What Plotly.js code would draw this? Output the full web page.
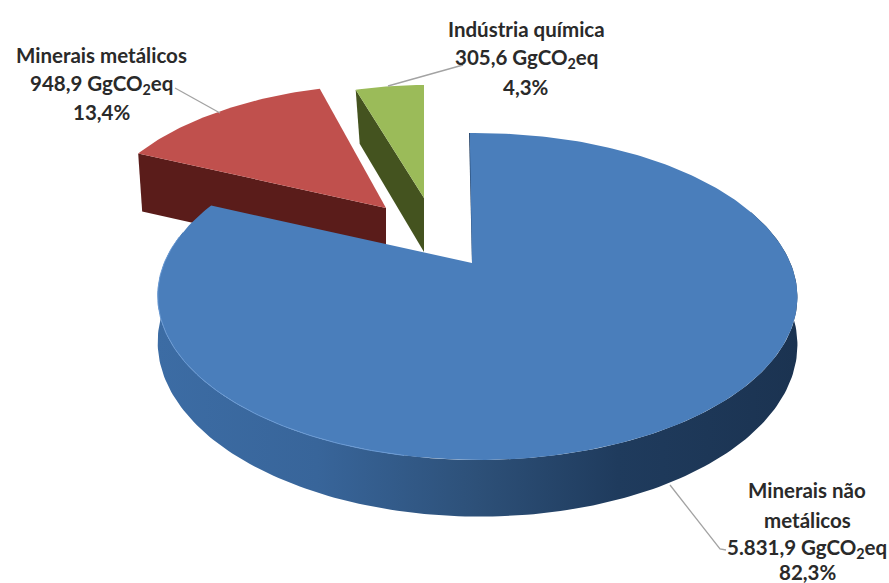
<!DOCTYPE html>
<html>
<head>
<meta charset="utf-8">
<script src="https://cdn.plot.ly/plotly-3.0.1.min.js"></script>
<style>html,body{margin:0;padding:0;background:#fff}</style>
</head>
<body>
<div id="chart" style="width:889px;height:583px"></div>
<script>
// Data
const categories = ["Minerais não metálicos", "Minerais metálicos", "Indústria química"];
const values = [5831.9, 948.9, 305.6];
const valueLabels = ["5.831,9 GgCO<sub>2</sub>eq", "948,9 GgCO<sub>2</sub>eq", "305,6 GgCO<sub>2</sub>eq"];
const percentLabels = ["82,3%", "13,4%", "4,3%"];

// Style / layout of the 3D look
const topColors = ["#4a7ebb", "#c0504d", "#9bbb59"];
const sideColors = ["#1f3a5c", "#5a1c1a", "#44531f"];
const apexes = [[472, 263], [386, 208], [424, 198]];
const scales = [1, 0.95, 0.87];
const angleTweaks = [[-0.5, -2.5], [-2.5, 0], [-2, 0]];
const persp = {R: 313, S: 156.6, p: 0.2048, r: -0.017, depth: 45};

const total = values.reduce((a, b) => a + b, 0);
function proj(deg, apex, s) {
  const t = deg * Math.PI / 180, u = Math.sin(t), v = Math.cos(t);
  const w = 1 + persp.p * v + persp.r * u;
  return {x: apex[0] + s * persp.R * u / w, y: apex[1] - s * persp.S * v / w, d: persp.depth / w};
}
function arc(a, b, apex, s) {
  const pts = [], n = Math.max(2, Math.ceil(Math.abs(b - a)));
  for (let i = 0; i <= n; i++) pts.push(proj(a + (b - a) * i / n, apex, s));
  return pts;
}
function poly(xs, ys, color, gradient) {
  const t = {type: "scatter", mode: "lines", x: xs, y: ys, fill: "toself", fillcolor: color,
    line: {width: 0, color: color}, hoverinfo: "skip", showlegend: false};
  if (gradient) t.fillgradient = gradient;
  return t;
}
const angles = [];
let acc = 0;
values.forEach((v, i) => {
  const a = acc / total * 360 + angleTweaks[i][0];
  acc += v;
  angles.push([a, acc / total * 360 + angleTweaks[i][1]]);
});
function topFace(i) {
  const pts = arc(angles[i][0], angles[i][1], apexes[i], scales[i]);
  return poly([apexes[i][0], ...pts.map(p => p.x), apexes[i][0]],
              [apexes[i][1], ...pts.map(p => p.y), apexes[i][1]], topColors[i]);
}
function radialWall(i, deg, D) {
  const c = proj(deg, apexes[i], scales[i]), a = apexes[i];
  return poly([a[0], c.x, c.x + 4, a[0], a[0]], [a[1], c.y, c.y + D, a[1] + D, a[1]], sideColors[i]);
}
function blueWall() {
  const pts = arc(70, 282, apexes[0], 1);
  return poly([...pts.map(p => p.x), ...pts.slice().reverse().map(p => p.x)],
              [...pts.map(p => p.y), ...pts.slice().reverse().map(p => p.y + p.d)], "#2f5a8c",
    {type: "horizontal", colorscale: [[0, "#3c6ca4"], [0.25, "#38659a"], [0.5, "#2d5078"], [0.72, "#1f3b5d"], [1, "#1b3351"]]});
}
function rim() {
  const pts = arc(190, 280, apexes[0], 1);
  return {type: "scatter", mode: "lines", x: pts.map(p => p.x), y: pts.map(p => p.y),
    line: {width: 1, color: "#6a9ad4"}, hoverinfo: "skip", showlegend: false};
}
function leader(xs, ys) {
  return {type: "scatter", mode: "lines", x: xs, y: ys, line: {width: 1.3, color: "#a3a3a3"},
    hoverinfo: "skip", showlegend: false};
}
const traces = [
  radialWall(2, angles[2][0], 54), topFace(2),
  radialWall(1, angles[1][0], 58), topFace(1),
  blueWall(),
  poly([472, 469, 472, 474, 472], [263, 133, 133, 263, 263], sideColors[0]),
  topFace(0),
  rim(),
  leader([175, 220], [88, 113]),
  leader([463, 388], [65, 86]),
  leader([670, 720, 726], [485, 549, 550])
];

const labelBlocks = [
  {i: 0, x: 807, ys: [490, 520, 548, 572], lines: ["Minerais não", "metálicos", valueLabels[0], percentLabels[0]]},
  {i: 1, x: 101, ys: [55, 84, 112], lines: [categories[1], valueLabels[1], percentLabels[1]]},
  {i: 2, x: 526, ys: [29, 58, 87], lines: [categories[2], valueLabels[2], percentLabels[2]]}
];
const annotations = [];
labelBlocks.forEach(b => b.lines.forEach((txt, k) => annotations.push({
  x: b.x, y: b.ys[k], xref: "x", yref: "y", text: txt, showarrow: false,
  xanchor: "center", yanchor: "middle", borderpad: 0,
  font: {family: "Lato, sans-serif", size: 20.5, color: "#2a2a2a", weight: 700}
})));

const layout = {
  width: 889, height: 583, margin: {l: 0, r: 0, t: 0, b: 0},
  paper_bgcolor: "#fff", plot_bgcolor: "#fff", showlegend: false,
  xaxis: {range: [0, 889], visible: false, fixedrange: true},
  yaxis: {range: [583, 0], visible: false, fixedrange: true},
  annotations: annotations
};
Plotly.newPlot("chart", traces, layout, {displayModeBar: false, staticPlot: true});
</script>
</body>
</html>
